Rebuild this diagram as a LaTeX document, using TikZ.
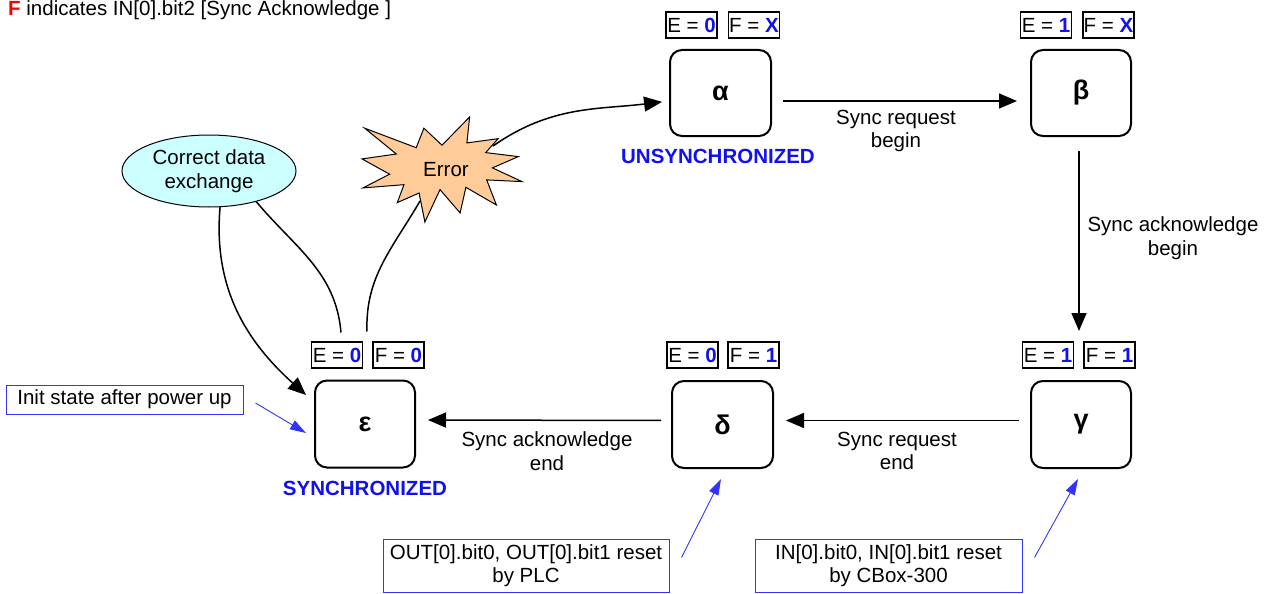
\documentclass[tikz,border=0pt]{standalone}
\usepackage{fontspec}
\setmainfont{Liberation Sans}
\usetikzlibrary{arrows.meta,shapes.geometric}
\definecolor{cdefill}{HTML}{CCFFFF}
\definecolor{errfill}{HTML}{FFCC99}
\definecolor{valblue}{HTML}{1010F0}
\definecolor{noteblue}{HTML}{3333FF}
\newcommand\flagval[1]{\textbf{\textcolor{valblue}{#1}}}
\begin{document}
\begin{tikzpicture}[x=1pt,y=-1pt,
  every node/.style={font=\fontsize{20.5}{23.5}\selectfont, align=center},
  statebox/.style={draw, line width=2pt, rounded corners=12pt,
    minimum width=100pt, minimum height=87pt, inner sep=0pt,
    font=\fontsize{27}{30}\selectfont\bfseries},
  flagbox/.style={draw, line width=1.1pt, minimum width=51pt,
    minimum height=26pt, inner sep=0pt},
  trans/.style={line width=1.5pt, -{Triangle[length=18pt,width=15pt]}},
  loopline/.style={line width=1.5pt},
  notebox/.style={draw=noteblue, line width=1pt, inner sep=0pt},
  pointer/.style={noteblue, line width=0.9pt, -{Triangle[length=16pt,width=10pt]}},
  status/.style={text=valblue, font=\fontsize{20.5}{23.5}\selectfont\bfseries}]

\fill[white] (0,0) rectangle (1269,594);
\useasboundingbox (0,0) rectangle (1269,594);

% legend line
\node[anchor=base west, inner sep=0pt] (legend) at (8,16)
  {\textcolor{red}{\bfseries F} indicates IN[0].bit2 [Sync Acknowledge ]};

% states
\node[statebox, minimum width=101pt, minimum height=86pt] (a) at (720.5,93) {α};
\node[statebox, minimum height=86pt] (b) at (1081,93) {β};
\node[statebox] (g) at (1081,424.5) {γ};
\node[statebox, minimum width=101pt] (d) at (722.5,424.5) {δ};
\node[statebox] (eps) at (365,424) {ε};

% flag values above each state
\node[flagbox] (aE) at (691.5,25) {E = \flagval{0}};
\node[flagbox] (aF) at (754,25) {F = \flagval{X}};
\node[flagbox] (bE) at (1046,25) {E = \flagval{1}};
\node[flagbox] (bF) at (1108.5,25) {F = \flagval{X}};
\node[flagbox] (epsE) at (337,355) {E = \flagval{0}};
\node[flagbox] (epsF) at (398.5,355) {F = \flagval{0}};
\node[flagbox] (dE) at (692.5,355) {E = \flagval{0}};
\node[flagbox] (dF) at (753.5,355) {F = \flagval{1}};
\node[flagbox] (gE) at (1048,355) {E = \flagval{1}};
\node[flagbox] (gF) at (1109.5,355) {F = \flagval{1}};

% status captions
\node[status] (unsync) at (718,156) {UNSYNCHRONIZED};
\node[status] (sync) at (365,488) {SYNCHRONIZED};

% transitions
\draw[trans, shorten <=11pt, shorten >=13pt] ([yshift=-8pt]a.east) -- ([yshift=-8pt]b.west);
\node (l1) at (896,131) {Sync request\\begin};
\draw[trans, shorten <=14pt, shorten >=49pt] ([xshift=-2pt]b.south) -- ([xshift=-2pt]g.north);
\node (l2) at (1173,238) {Sync acknowledge\\begin};
\draw[trans, shorten <=11pt, shorten >=12pt] ([yshift=4pt]g.west) -- ([yshift=4pt]d.east);
\node (l3) at (897,451) {Sync request\\end};
\draw[trans, shorten <=10pt, shorten >=12pt] ([yshift=4pt]d.west) -- ([yshift=4pt]eps.east);
\node (l4) at (547,451) {Sync acknowledge\\end};

% correct data exchange loop
\node[draw, ellipse, fill=cdefill, line width=1pt, minimum width=174pt,
  minimum height=72pt, inner sep=0pt] (cde) at (209,171) {Correct data\\exchange};
\coordinate (epsL) at ([xshift=-24pt,yshift=47pt]eps.north);
\draw[loopline] (epsL) to[out=95,in=-50] (cde.-33);
\draw[trans] (cde.-73) to[out=-95,in=138] ([xshift=-8pt,yshift=29pt]eps.west);

% error burst
\draw[fill=errfill, line width=1pt]
  (442,145.2) -- (469.6,117) -- (466.9,142.9) -- (498.1,138.7) -- (485.7,152.6)
  -- (518.3,156.6) -- (492.4,167.9) -- (522,181.6) -- (486.7,179.9) -- (496.4,205)
  -- (465.9,187.3) -- (460.1,212.9) -- (440,189.6) -- (424.9,222) -- (419.1,193)
  -- (397.3,202.6) -- (404,184.7) -- (363,187.9) -- (389.6,174.2) -- (362,158.9)
  -- (396.3,154) -- (364.7,128.2) -- (416.2,147.7) -- (423.9,128.2) -- cycle;
\node (err) at (446,170) {Error};
\coordinate (errIn) at (420,201);
\coordinate (errOut) at (493,146);
\coordinate (epsR) at ([xshift=2pt,yshift=48pt]eps.north);
\draw[loopline] (epsR) to[out=92,in=240] (errIn);
\draw[trans, shorten >=7pt] (errOut) to[out=35,in=187] ([yshift=-8pt]a.west);

% notes
\node[notebox, minimum width=237pt, minimum height=29pt] (init) at (124.5,399.5)
  {Init state after power up};
\node[notebox, minimum width=286pt, minimum height=53pt] (plc) at (526,565.5)
  {OUT[0].bit0, OUT[0].bit1 reset\\by PLC};
\node[notebox, minimum width=267pt, minimum height=53pt] (cbox) at (888.5,565.5)
  {IN[0].bit0, IN[0].bit1 reset\\by CBox-300};
\coordinate (p1s) at ([xshift=12pt,yshift=-3.5pt]init.east);
\coordinate (p1e) at ([xshift=-8pt,yshift=-9pt]eps.west);
\draw[pointer] (p1s) -- (p1e);
\coordinate (p2s) at ([xshift=12pt,yshift=8pt]plc.east);
\coordinate (p2e) at ([xshift=-1.5pt,yshift=-10pt]d.south);
\draw[pointer] (p2s) -- (p2e);
\coordinate (p3s) at ([xshift=12pt,yshift=8pt]cbox.east);
\coordinate (p3e) at ([xshift=-3pt,yshift=-10pt]g.south);
\draw[pointer] (p3s) -- (p3e);
\end{tikzpicture}
\end{document}
